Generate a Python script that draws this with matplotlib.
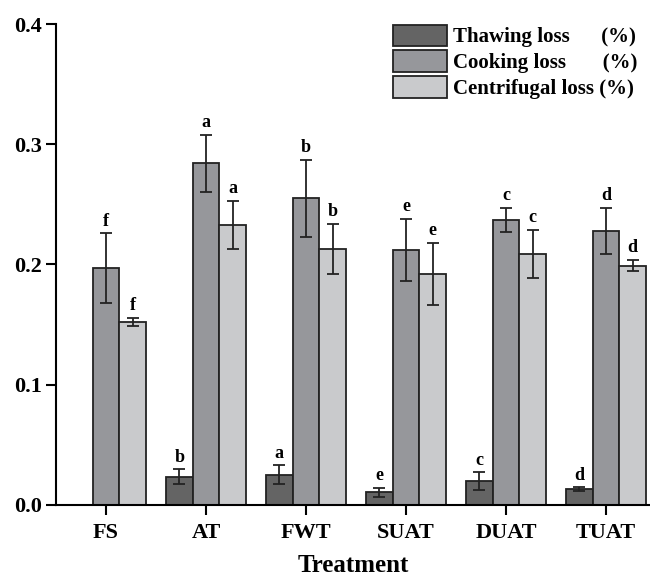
import numpy as np
import matplotlib
matplotlib.use("Agg")
import matplotlib.pyplot as plt

plt.rcParams["font.family"] = ["Liberation Serif", "DejaVu Serif"]
plt.rcParams["font.weight"] = "bold"

# 데이터
treatments = ["FS", "AT", "FWT", "SUAT", "DUAT", "TUAT"]
thawing = [0.0, 0.0236, 0.0252, 0.0106, 0.0200, 0.0131]
thawing_err = [0.0, 0.0061, 0.0076, 0.0038, 0.0072, 0.0015]
cooking = [0.197, 0.284, 0.255, 0.212, 0.237, 0.228]
cooking_err = [0.029, 0.024, 0.032, 0.026, 0.010, 0.019]
centrifugal = [0.152, 0.233, 0.213, 0.192, 0.209, 0.199]
centrifugal_err = [0.0035, 0.020, 0.021, 0.026, 0.020, 0.0048]
thawing_lab = ["", "b", "a", "e", "c", "d"]
cooking_lab = ["f", "a", "b", "e", "c", "d"]
centrifugal_lab = ["f", "a", "b", "e", "c", "d"]

fig = plt.figure(figsize=(6.5, 5.79), dpi=100)
ax = fig.add_axes([0.086, 0.128, 0.914, 0.8305])

x = np.arange(1, len(treatments) + 1)
w = 0.267
series = [
    (thawing, thawing_err, thawing_lab, "#646464", "Thawing loss      (%)", -w),
    (cooking, cooking_err, cooking_lab, "#96979b", "Cooking loss       (%)", 0),
    (centrifugal, centrifugal_err, centrifugal_lab, "#c9cacc", "Centrifugal loss (%)", w),
]

for vals, errs, labs, col, name, off in series:
    vals = np.array(vals)
    errs = np.array(errs)
    show = vals > 0
    ax.bar(x + off, vals, width=w, color=col, edgecolor="#222222",
           linewidth=1.3, label=name)
    ax.errorbar((x + off)[show], vals[show], yerr=errs[show], fmt="none",
                ecolor="#222222", elinewidth=1.3, capsize=4.5, capthick=1.3)
    for xi, v, e, lab in zip(x + off, vals, errs, labs):
        if lab:
            ax.text(xi, v + e + 0.003, lab, ha="center", va="bottom",
                    fontsize=13, fontweight="bold")

ax.set_xlim(0.5, 6.44)
ax.set_ylim(0, 0.4)
ax.set_yticks([0.0, 0.1, 0.2, 0.3, 0.4])
ax.set_yticklabels(["0.0", "0.1", "0.2", "0.3", "0.4"])
ax.set_xticks(x)
ax.set_xticklabels(treatments)
ax.tick_params(axis="both", labelsize=16, width=1.5, length=7, direction="out")
ax.tick_params(axis="x", pad=6)
ax.tick_params(axis="y", pad=3)
for lbl in ax.get_xticklabels() + ax.get_yticklabels():
    lbl.set_fontweight("bold")
ax.set_xlabel("Treatment", fontsize=18, fontweight="bold", labelpad=8)

ax.spines[["top", "right"]].set_visible(False)
ax.spines["left"].set_linewidth(1.5)
ax.spines["bottom"].set_linewidth(1.5)

leg = ax.legend(loc="upper right", bbox_to_anchor=(1.0, 1.025), frameon=False,
                prop={"size": 15, "weight": "bold"}, handlelength=2.6,
                handleheight=1.2, handletextpad=0.3, labelspacing=0.15,
                borderaxespad=0.2)
for h in leg.legend_handles:
    h.set_edgecolor("#222222")
    h.set_linewidth(1.3)

fig.savefig("out.png", dpi=100)
